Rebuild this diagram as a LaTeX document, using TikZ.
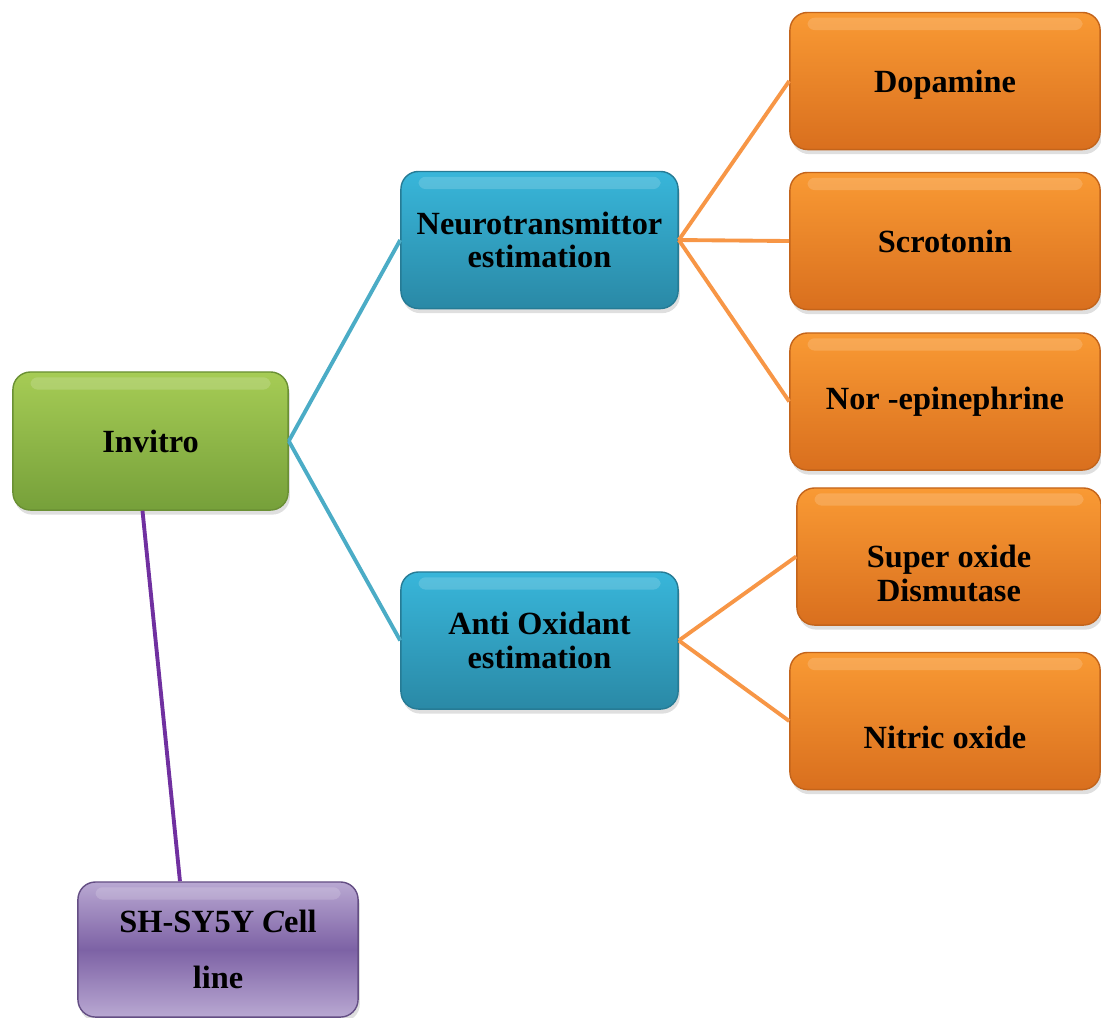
\documentclass[tikz,border=0pt]{standalone}
\usepackage{fontspec}
\setmainfont{Liberation Serif}
\usetikzlibrary{shadows}
\definecolor{grntop}{HTML}{A6CC55}
\definecolor{grnbot}{HTML}{76A03A}
\definecolor{blutop}{HTML}{38B6DA}
\definecolor{blubot}{HTML}{2A89A6}
\definecolor{orgtop}{HTML}{F99A34}
\definecolor{orgbot}{HTML}{D96F1E}
\definecolor{purtop}{HTML}{B9A8D2}
\definecolor{purmid}{HTML}{7D62A5}
\definecolor{bluline}{HTML}{4BACC6}
\definecolor{orgline}{HTML}{F79646}
\definecolor{purline}{HTML}{7030A0}
\tikzset{box/.style={rounded corners=5pt, minimum height=1.37cm, align=center,
         font=\fontsize{9.2}{9.6}\selectfont\bfseries, inner sep=2pt,
         drop shadow={opacity=0.25, shadow xshift=0.5pt, shadow yshift=-1.3pt},
         path picture={\fill[white, opacity=0.16, rounded corners=2pt]
           ([xshift=5pt,yshift=-1.5pt]path picture bounding box.north west)
           rectangle ([xshift=-5pt,yshift=-5pt]path picture bounding box.north east);}},
         greenbox/.style={box, top color=grntop, bottom color=grnbot, draw=grnbot!90!black, line width=0.4pt},
         bluebox/.style={box, top color=blutop, bottom color=blubot, draw=blubot!90!black, line width=0.4pt},
         orangebox/.style={box, top color=orgtop, bottom color=orgbot, draw=orgbot!90!black, line width=0.4pt},
         purplebox/.style={box, top color=purtop, bottom color=purtop, middle color=purmid, draw=purmid!80!black, line width=0.4pt},
         lowtext/.style={text height=#1},
         link/.style={line width=1.1pt}}

\begin{document}
\begin{tikzpicture}[x=0.01cm, y=-0.01cm]
  \useasboundingbox (0,0) rectangle (1101,1017);

  % first and second level
  \node[greenbox, minimum width=2.75cm, minimum height=1.38cm] (invitro) at (150.5,441) {Invitro};
  \node[bluebox, minimum width=2.77cm] (neuro) at (539.5,240) {Neurotransmittor\\estimation};
  \node[bluebox, minimum width=2.77cm] (antiox) at (539.5,640.5) {Anti Oxidant\\estimation};
  \node[purplebox, minimum width=2.8cm, minimum height=1.35cm] (cellline) at (218,949.5)
    {SH-SY5Y \textit{C}ell\\[6.3pt]line};

  % markers
  \node[orangebox, minimum width=3.1cm, lowtext=0.3cm] (dopa) at (945,81) {Dopamine};
  \node[orangebox, minimum width=3.1cm] (sero) at (945,241) {Scrotonin};
  \node[orangebox, minimum width=3.1cm] (norepi) at (945,401.5) {Nor -epinephrine};
  \node[orangebox, minimum width=3.04cm, lowtext=0.9cm] (sod) at (949,556.5) {Super oxide\\Dismutase};
  \node[orangebox, minimum width=3.1cm, lowtext=0.55cm] (nitric) at (945,721) {Nitric oxide};

  \foreach \t in {neuro,antiox}
    \draw[link, bluline] (invitro.east) -- (\t.west);
  \foreach \t in {dopa,sero,norepi}
    \draw[link, orgline] (neuro.east) -- (\t.west);
  \foreach \t in {sod,nitric}
    \draw[link, orgline] (antiox.east) -- (\t.west);
  \draw[link, purline] ([xshift=-0.08cm]invitro.south) -- ([xshift=-0.38cm]cellline.north);
\end{tikzpicture}
\end{document}
